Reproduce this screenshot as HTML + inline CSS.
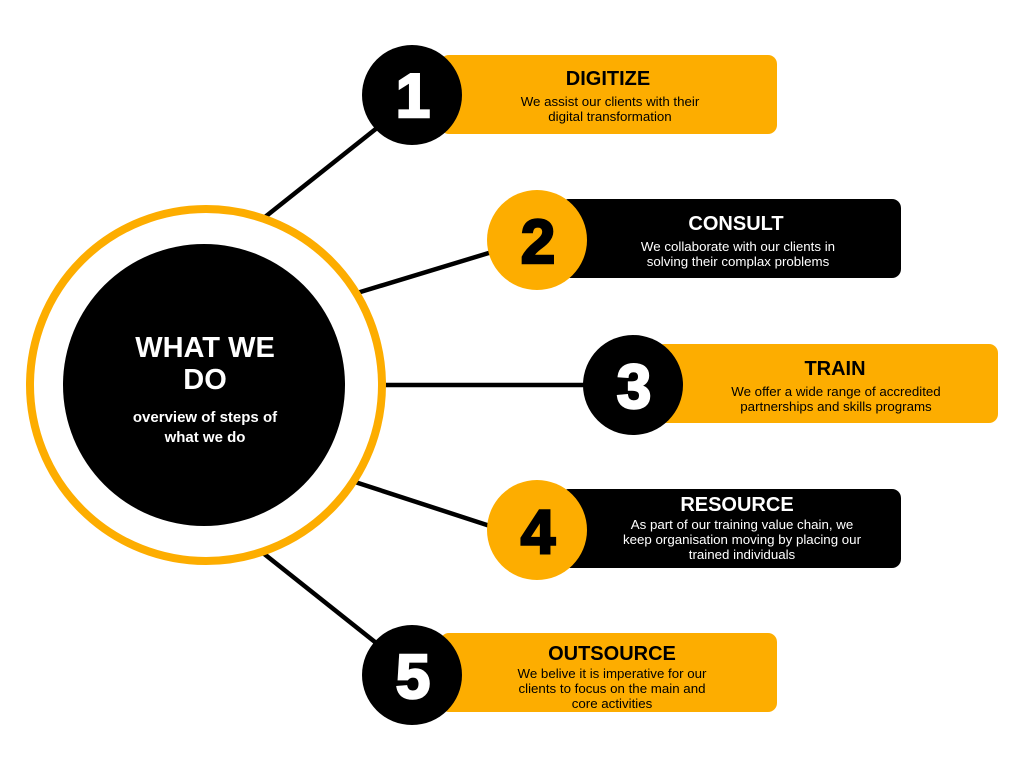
<!DOCTYPE html>
<html><head><meta charset="utf-8"><style>
html,body{margin:0;padding:0;background:#fff;}
svg{display:block;font-family:"Liberation Sans",sans-serif;}
.t{font-weight:bold;font-size:20px;text-anchor:middle;}
.b{font-size:13.3px;text-anchor:middle;}
.n{font-weight:bold;font-size:62px;text-anchor:middle;stroke-width:2.5px;}
</style></head><body>
<svg width="1024" height="768" viewBox="0 0 1024 768">
<rect width="1024" height="768" fill="#fff"/>
<g stroke="#000" stroke-width="4.5">
<line x1="265" y1="217" x2="382" y2="124"/>
<line x1="357" y1="293" x2="492" y2="252"/>
<line x1="384" y1="385" x2="586" y2="385"/>
<line x1="355" y1="482" x2="490" y2="526"/>
<line x1="263" y1="553" x2="380" y2="646"/>
</g>
<circle cx="206" cy="385" r="176" fill="none" stroke="#FDAD00" stroke-width="8"/>
<circle cx="204" cy="385" r="141" fill="#000"/>
<text x="205" y="357" fill="#fff" font-weight="bold" font-size="29" text-anchor="middle">WHAT WE</text>
<text x="205" y="389" fill="#fff" font-weight="bold" font-size="29" text-anchor="middle">DO</text>
<text x="205" y="422" fill="#fff" font-weight="bold" font-size="15" text-anchor="middle">overview of steps of</text>
<text x="205" y="442" fill="#fff" font-weight="bold" font-size="15" text-anchor="middle">what we do</text>

<rect x="440" y="55" width="337" height="79" rx="9" fill="#FDAD00"/>
<circle cx="412" cy="95" r="50" fill="#000"/>
<text class="n" x="413" y="117" fill="#fff" stroke="#fff">1</text>
<text class="t" x="608" y="85">DIGITIZE</text>
<text class="b" x="610" y="106">We assist our clients with their</text>
<text class="b" x="610" y="121">digital transformation</text>

<rect x="560" y="199" width="341" height="79" rx="9" fill="#000"/>
<circle cx="537" cy="240" r="50" fill="#FDAD00"/>
<text class="n" x="538" y="263" fill="#000" stroke="#000">2</text>
<text class="t" x="736" y="230" fill="#fff">CONSULT</text>
<text class="b" x="738" y="251" fill="#fff">We collaborate with our clients in</text>
<text class="b" x="738" y="266" fill="#fff">solving their complax problems</text>

<rect x="655" y="344" width="343" height="79" rx="9" fill="#FDAD00"/>
<circle cx="633" cy="385" r="50" fill="#000"/>
<text class="n" x="634" y="408" fill="#fff" stroke="#fff">3</text>
<text class="t" x="835" y="375">TRAIN</text>
<text class="b" x="836" y="396">We offer a wide range of accredited</text>
<text class="b" x="836" y="411">partnerships and skills programs</text>

<rect x="560" y="489" width="341" height="79" rx="9" fill="#000"/>
<circle cx="537" cy="530" r="50" fill="#FDAD00"/>
<text class="n" x="538" y="553" fill="#000" stroke="#000">4</text>
<text class="t" x="737" y="511" fill="#fff">RESOURCE</text>
<text class="b" x="742" y="529" fill="#fff">As part of our training value chain, we</text>
<text class="b" x="742" y="544" fill="#fff">keep organisation moving by placing our</text>
<text class="b" x="742" y="559" fill="#fff">trained individuals</text>

<rect x="440" y="633" width="337" height="79" rx="9" fill="#FDAD00"/>
<circle cx="412" cy="675" r="50" fill="#000"/>
<text class="n" x="413" y="698" fill="#fff" stroke="#fff">5</text>
<text class="t" x="612" y="660">OUTSOURCE</text>
<text class="b" x="612" y="678">We belive it is imperative for our</text>
<text class="b" x="612" y="693">clients to focus on the main and</text>
<text class="b" x="612" y="708">core activities</text>
</svg>
</body></html>
